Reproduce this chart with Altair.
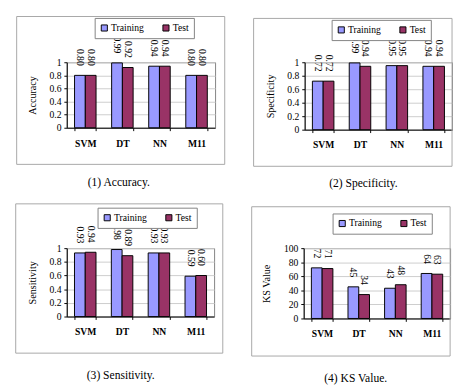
import altair as alt
import pandas as pd

models = ["SVM", "DT", "NN", "M11"]
series = ["Training", "Test"]

acc_train = [0.80, 0.99, 0.94, 0.80]
acc_test = [0.80, 0.92, 0.94, 0.80]
spe_train = [0.72, 0.99, 0.95, 0.94]
spe_test = [0.72, 0.94, 0.95, 0.94]
sen_train = [0.93, 0.98, 0.93, 0.59]
sen_test = [0.94, 0.89, 0.93, 0.60]
ks_train = [72, 45, 43, 64]
ks_test = [71, 34, 48, 63]

ratio_ticks = [0, 0.2, 0.4, 0.6, 0.8, 1]
ks_ticks = [0, 20, 40, 60, 80, 100]

y_titles = ["Accuracy", "Specificity", "Sensitivity", "KS Value"]
captions = ["(1) Accuracy.", "(2) Specificity.", "(3) Sensitivity.", "(4) KS Value."]

colors = ["#9999FF", "#993366"]
FONT = "Liberation Serif"


def long_table(train, test):
    rows = []
    for s, vals in zip(series, [train, test]):
        for m, v in zip(models, vals):
            rows.append({"model": m, "series": s, "value": v})
    return pd.DataFrame(rows)


def panel(train, test, ytitle, caption, ticks, tick_fmt, fmt, g):
    w, h = g["w"], g["h"]
    df = long_table(train, test)
    base = alt.Chart(df)
    x = alt.X(
        "model:N", sort=models,
        scale=alt.Scale(paddingInner=0.42, paddingOuter=0.21),
        axis=alt.Axis(title=None, labelAngle=0, tickBand="extent", tickSize=3,
                      labelPadding=8, labelFontWeight="bold", grid=False,
                      labelFont=FONT),
    )
    xo = alt.XOffset("series:N", sort=series,
                     scale=alt.Scale(domain=series, paddingInner=0, paddingOuter=0))
    y = alt.Y(
        "value:Q",
        scale=alt.Scale(domain=[ticks[0], ticks[-1]], nice=False),
        axis=alt.Axis(title=ytitle, values=ticks, format=tick_fmt, tickSize=3,
                      labelPadding=3, grid=True, titleX=g["tx"], titleY=h / 2,
                      titleBaseline="middle", titleAngle=-90,
                      labelFont=FONT, titleFont=FONT),
    )
    color = alt.Color(
        "series:N",
        scale=alt.Scale(domain=series, range=colors),
        legend=alt.Legend(title=None, orient="none", legendX=g["lx"], legendY=g["ly"],
                          direction="horizontal", symbolType="square", symbolSize=40,
                          symbolStrokeColor="black", symbolStrokeWidth=1,
                          strokeColor="#808080", fillColor="white", padding=5,
                          columnPadding=16, labelOffset=2, labelFont=FONT,
                          labelFontSize=10, labelColor="black"),
    )
    bars = base.mark_bar(stroke="black", strokeWidth=1).encode(
        x=x, xOffset=xo, y=y, color=color)
    labels = base.mark_text(angle=90, align="right", baseline="middle", dx=-10,
                            fontSize=10, font=FONT, color="black").encode(
        x=x, xOffset=xo, y=y, text=alt.Text("value:Q", format=fmt))
    deco = pd.DataFrame({"k": [0]})
    box = alt.Chart(deco).mark_rect(fillOpacity=0, stroke="#a6a6a6", strokeWidth=1).encode(
        x=alt.value(g["bx1"]), x2=alt.value(g["bx2"]),
        y=alt.value(g["by1"]), y2=alt.value(g["by2"]))
    cap = alt.Chart(deco).mark_text(fontSize=12, font=FONT, align="center",
                                    baseline="middle", color="black").encode(
        x=alt.value(g["cx"]), y=alt.value(g["cy"]), text=alt.value(caption))
    return alt.layer(box, bars, labels, cap).properties(width=w, height=h)


g1 = dict(w=154, h=68, tx=-35, lx=29, ly=-46, bx1=-52, bx2=164, by1=-47.5, by2=106, cx=54, cy=124)
g2 = dict(w=153, h=70, tx=-35, lx=28, ly=-44, bx1=-53, bx2=153, by1=-45.5, by2=108, cx=61, cy=126)
g3 = dict(w=153, h=71, tx=-35, lx=32, ly=-42, bx1=-53, bx2=162, by1=-46, by2=109, cx=56, cy=132)
g4 = dict(w=152, h=73, tx=-38, lx=30, ly=-36, bx1=-54, bx2=152, by1=-43, by2=112, cx=54, cy=135)

p1 = panel(acc_train, acc_test, y_titles[0], captions[0], ratio_ticks, "~g", ".2f", g1)
p2 = panel(spe_train, spe_test, y_titles[1], captions[1], ratio_ticks, "~g", ".2f", g2)
p3 = panel(sen_train, sen_test, y_titles[2], captions[2], ratio_ticks, "~g", ".2f", g3)
p4 = panel(ks_train, ks_test, y_titles[3], captions[3], ks_ticks, "d", "d", g4)

row1 = alt.hconcat(p1, p2, spacing=28).resolve_scale(color="independent")
row2 = alt.hconcat(p3, p4, spacing=28).resolve_scale(color="independent")

chart = (
    alt.vconcat(row1, row2, spacing=13)
    .resolve_scale(color="independent")
    .properties(padding={"left": 7, "top": 0, "right": 0, "bottom": 0}, background="white")
    .configure(font=FONT)
    .configure_axis(labelFont=FONT, titleFont=FONT, labelFontSize=10, titleFontSize=10.5,
                    titleFontWeight="normal", domainColor="black", tickColor="black",
                    labelColor="black", titleColor="black", gridColor="#cccccc")
    .configure_legend(labelFont=FONT)
    .configure_text(font=FONT)
    .configure_view(stroke="#808080")
)

chart.save("out.html", embed_options={"renderer": "svg", "actions": False})
